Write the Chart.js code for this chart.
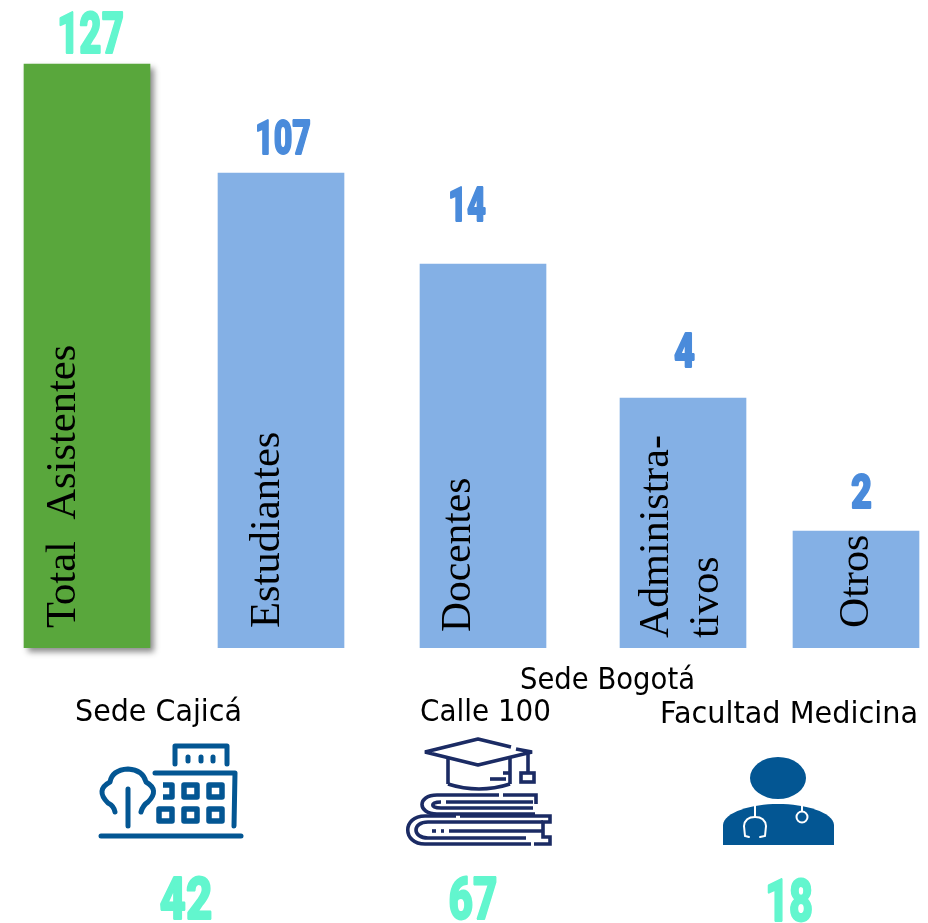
<!DOCTYPE html>
<html>
<head>
<meta charset="utf-8">
<title>Asistentes</title>
<script src="https://cdn.jsdelivr.net/npm/chart.js@4"></script>
<style>
  html, body { margin: 0; padding: 0; background: #fff; }
  canvas { display: block; }
</style>
</head>
<body>
<canvas id="asistentesChart" width="928" height="923"></canvas>
<script>
// chart values
const categories = ['Total  Asistentes', 'Estudiantes', 'Docentes', 'Administra-\ntivos', 'Otros'];
const asistentes = [127, 107, 14, 4, 2];
// the bars in the original are not to scale, so their drawn length is kept apart from the counts
const barLengths = [584, 475, 384, 250, 117];
const barSlots = [87, 281, 483, 683, 856];

const groupTitle = 'Sede Bogotá';
const sedes = ['Sede Cajicá', 'Calle 100', 'Facultad Medicina'];
const sedeAsistentes = [42, 67, 18];

const GREEN = '#59a73c', BLUE = '#84b0e5', DARK_BLUE = '#4a8bdb', MINT = '#62f6ce';
const ICON_BLUE = '#035693', ICON_NAVY = '#1b2b64';
const BASELINE = 648;

// condensed heavy digits, the original uses an Impact style face
function bigNumber(ctx, text, cx, bottom, height, width, color) {
    const size = height / 0.72;
    ctx.save();
    ctx.font = `900 ${size}px Roboto`;
    const sx = width / ctx.measureText(text).width;
    ctx.translate(cx, bottom);
    ctx.scale(sx, 1);
    ctx.textAlign = 'center';
    ctx.textBaseline = 'alphabetic';
    ctx.fillStyle = color;
    ctx.strokeStyle = color;
    ctx.lineWidth = 1.8;
    ctx.lineJoin = 'bevel';
    ctx.fillText(text, 0, 0);
    ctx.strokeText(text, 0, 0);
    ctx.restore();
}

function sideways(ctx, text, baseX, startY, size) {
    ctx.save();
    ctx.translate(baseX, startY);
    ctx.rotate(-Math.PI / 2);
    ctx.font = `${size}px "Liberation Serif"`;
    ctx.fillStyle = '#000';
    ctx.textAlign = 'left';
    ctx.textBaseline = 'alphabetic';
    ctx.fillText(text, 0, 0);
    ctx.restore();
}

function caption(ctx, text, left, right, baseline) {
    ctx.save();
    ctx.font = '30px "DejaVu Sans"';
    const sx = (right - left) / ctx.measureText(text).width;
    ctx.translate(left, baseline);
    ctx.scale(sx, 1);
    ctx.fillStyle = '#000';
    ctx.textAlign = 'left';
    ctx.textBaseline = 'alphabetic';
    ctx.fillText(text, 0, 0);
    ctx.restore();
}

function poly(ctx, pts) {
    ctx.beginPath();
    pts.forEach((p, i) => i ? ctx.lineTo(p[0], p[1]) : ctx.moveTo(p[0], p[1]));
    ctx.stroke();
}

function drawBuilding(ctx) {
    ctx.save();
    ctx.strokeStyle = ICON_BLUE;
    ctx.lineCap = 'round';
    ctx.lineJoin = 'round';
    ctx.lineWidth = 5;
    poly(ctx, [[101, 836], [241, 836]]);
    poly(ctx, [[175, 764], [175, 746], [227, 746], [227, 764]]);
    poly(ctx, [[155, 773], [235, 773], [234, 826]]);
    [188, 201, 213].forEach(x => poly(ctx, [[x, 757], [x, 761]]));
    ctx.lineCap = 'butt';
    ctx.lineWidth = 5.5;
    [182, 207].forEach(x => ctx.strokeRect(x + 2, 785, 13, 12));
    [157, 182, 207].forEach(x => ctx.strokeRect(x + 2, 809, 13, 12));
    poly(ctx, [[163, 785], [172, 785], [172, 797], [163, 797]]);
    // tree
    ctx.lineCap = 'round';
    ctx.lineWidth = 5;
    poly(ctx, [[128, 789], [128, 826]]);
    ctx.beginPath();
    ctx.moveTo(115, 812);
    ctx.quadraticCurveTo(114, 806, 108, 803);
    ctx.quadraticCurveTo(95, 790, 110, 782);
    ctx.quadraticCurveTo(112, 770, 128, 769);
    ctx.quadraticCurveTo(143, 770, 146, 782);
    ctx.quadraticCurveTo(160, 790, 148, 802);
    ctx.quadraticCurveTo(143, 805, 141, 812);
    ctx.stroke();
    ctx.restore();
}

function drawCapAndBooks(ctx) {
    ctx.save();
    ctx.strokeStyle = ICON_NAVY;
    ctx.lineJoin = 'bevel';
    ctx.lineWidth = 3.6;
    // cap
    poly(ctx, [[516, 749], [532, 752], [478, 765], [425, 752], [478, 739], [511, 747]]);
    poly(ctx, [[448, 758], [448, 784]]);
    poly(ctx, [[510, 758], [510, 784]]);
    ctx.beginPath();
    ctx.moveTo(448, 784);
    ctx.quadraticCurveTo(479, 794, 510, 784);
    ctx.stroke();
    poly(ctx, [[528, 753], [528, 773]]);
    ctx.lineJoin = 'miter';
    ctx.strokeRect(521, 773, 13, 9);
    poly(ctx, [[490, 779], [506, 779]]);
    poly(ctx, [[503, 773], [510, 773]]);
    // upper book
    ctx.beginPath();
    ctx.moveTo(499, 795);
    ctx.lineTo(437, 795);
    ctx.bezierCurveTo(417, 795, 417, 814, 437, 814);
    ctx.lineTo(535, 814);
    ctx.stroke();
    poly(ctx, [[503, 795], [536, 795], [536, 804]]);
    ctx.beginPath();
    ctx.moveTo(441, 802);
    ctx.bezierCurveTo(430, 802, 430, 808, 441, 808);
    ctx.lineTo(533, 808);
    ctx.stroke();
    poly(ctx, [[446, 802], [533, 802]]);
    // lower book
    ctx.beginPath();
    ctx.moveTo(456, 816);
    ctx.lineTo(425, 816);
    ctx.bezierCurveTo(402, 816, 402, 844, 425, 844);
    ctx.lineTo(531, 844);
    ctx.stroke();
    poly(ctx, [[460, 816], [550, 816], [550, 822], [543, 822], [543, 837], [550, 837], [550, 844], [534, 844]]);
    ctx.beginPath();
    ctx.moveTo(543, 822);
    ctx.lineTo(428, 822);
    ctx.bezierCurveTo(412, 822, 412, 838, 428, 838);
    ctx.lineTo(526, 838);
    ctx.stroke();
    poly(ctx, [[449, 831], [543, 831]]);
    poly(ctx, [[432, 831], [436, 831]]);
    poly(ctx, [[441, 831], [444, 831]]);
    ctx.restore();
}

function drawDoctor(ctx) {
    ctx.save();
    ctx.fillStyle = ICON_BLUE;
    ctx.beginPath();
    ctx.ellipse(778, 778, 28, 21, 0, 0, Math.PI * 2);
    ctx.fill();
    ctx.beginPath();
    ctx.moveTo(723, 845);
    ctx.lineTo(723, 825);
    ctx.bezierCurveTo(724, 812, 752, 804, 778, 804);
    ctx.bezierCurveTo(805, 804, 833, 812, 834, 825);
    ctx.lineTo(834, 845);
    ctx.closePath();
    ctx.fill();
    // stethoscope
    ctx.strokeStyle = '#fff';
    ctx.lineWidth = 2;
    ctx.lineCap = 'round';
    poly(ctx, [[755, 806], [755, 817]]);
    ctx.beginPath();
    ctx.moveTo(749, 837);
    ctx.lineTo(745, 836);
    ctx.lineTo(744, 826);
    ctx.quadraticCurveTo(745, 817, 755, 817);
    ctx.quadraticCurveTo(765, 817, 766, 826);
    ctx.lineTo(765, 836);
    ctx.lineTo(760, 837);
    ctx.stroke();
    poly(ctx, [[802, 806], [802, 811]]);
    ctx.beginPath();
    ctx.arc(802, 817, 5.5, 0, Math.PI * 2);
    ctx.stroke();
    ctx.restore();
}

// soft shadow under the total bar
const barShadow = {
    id: 'barShadow',
    beforeDatasetsDraw(chart) {
        const { ctx } = chart;
        const bar = chart.getDatasetMeta(0).data[0];
        ctx.save();
        ctx.shadowColor = 'rgba(0, 0, 0, 0.45)';
        ctx.shadowBlur = 6;
        ctx.shadowOffsetX = 4;
        ctx.shadowOffsetY = 4;
        ctx.fillStyle = GREEN;
        ctx.fillRect(bar.x - bar.width / 2, bar.y, bar.width, bar.base - bar.y);
        ctx.restore();
    }
};

const annotations = {
    id: 'annotations',
    afterDatasetsDraw(chart) {
        const { ctx } = chart;
        const meta = chart.getDatasetMeta(0);

        // counts over the bars
        const numberShift = [3.5, 2, -16, 1.5, 5.5];
        const numberWidths = [67, 56, 38, 21, 21];
        const numberHeights = [41, 35, 34, 34, 34];
        const numberBottoms = [53, 154, 221, 367, 508];
        asistentes.forEach((v, i) => {
            bigNumber(ctx, String(v), meta.data[i].x + numberShift[i], numberBottoms[i],
                numberHeights[i], numberWidths[i], i === 0 ? MINT : DARK_BLUE);
        });

        // names along the bars
        const nameX = [[75], [279], [470], [668, 718], [868]];
        const nameY = [628, 628, 632, 638, 628];
        const nameSize = [42.6, 42.6, 41.5, 42, 42];
        categories.forEach((name, i) => {
            name.split('\n').forEach((line, j) => sideways(ctx, line, nameX[i][j], nameY[i], nameSize[i]));
        });

        caption(ctx, groupTitle, 520, 695, 689);
        caption(ctx, sedes[0], 75, 242, 721);
        caption(ctx, sedes[1], 420, 551, 721);
        caption(ctx, sedes[2], 660, 918, 723);

        drawBuilding(ctx);
        drawCapAndBooks(ctx);
        drawDoctor(ctx);

        bigNumber(ctx, String(sedeAsistentes[0]), 186, 919, 43, 53, MINT);
        bigNumber(ctx, String(sedeAsistentes[1]), 473, 919, 43, 49, MINT);
        bigNumber(ctx, String(sedeAsistentes[2]), 789, 921, 43, 48, MINT);
    }
};

new Chart(document.getElementById('asistentesChart'), {
    type: 'bar',
    data: {
        datasets: [{
            label: 'Asistentes',
            data: barSlots.map((x, i) => ({ x: x, y: barLengths[i] })),
            backgroundColor: [GREEN, BLUE, BLUE, BLUE, BLUE],
            borderWidth: 0,
            barThickness: 126
        }]
    },
    options: {
        responsive: false,
        animation: false,
        layout: { padding: { left: 0, right: 0, top: 0, bottom: 923 - BASELINE } },
        plugins: { legend: { display: false }, tooltip: { enabled: false } },
        scales: {
            x: { type: 'linear', min: 0, max: 928, offset: false, display: false },
            y: { min: 0, max: BASELINE, display: false }
        }
    },
    plugins: [barShadow, annotations]
});
</script>
</body>
</html>
